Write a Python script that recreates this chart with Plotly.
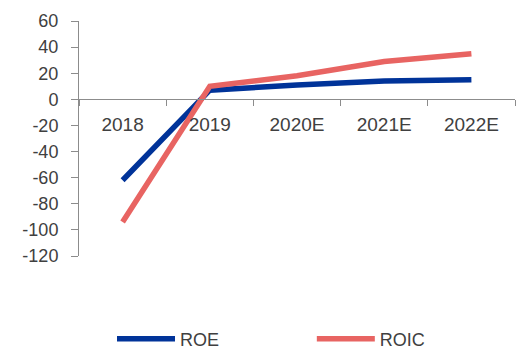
import plotly.graph_objects as go

# Return metrics by year (%)
years = ["2018", "2019", "2020E", "2021E", "2022E"]
roe = [-62, 7, 11, 14, 15]
roic = [-94, 10, 18, 29, 35]

y_ticks = [60, 40, 20, 0, -20, -40, -60, -80, -100, -120]
y_min, y_max = -120, 60

blue = "#003399"
red = "#E86462"
text_color = "#404040"
axis_color = "#8C8C8C"
font = "Liberation Sans, Arial, sans-serif"

fig = go.Figure()
fig.add_trace(go.Scatter(x=years, y=roe, name="ROE", mode="lines",
                         line=dict(color=blue, width=5.5), legend="legend"))
fig.add_trace(go.Scatter(x=years, y=roic, name="ROIC", mode="lines",
                         line=dict(color=red, width=5.5), legend="legend2"))

# x axis sits on the zero line
zero_pos = (0 - y_min) / (y_max - y_min)

legend_style = dict(orientation="h", xanchor="left", y=-0.353, yanchor="middle",
                    itemwidth=58, font=dict(size=18, color=text_color),
                    bgcolor="rgba(0,0,0,0)")

fig.update_layout(
    width=523, height=349,
    margin=dict(l=79, r=8, t=21, b=93, autoexpand=False),
    paper_bgcolor="white", plot_bgcolor="white",
    font=dict(family=font, size=18, color=text_color),
    showlegend=True,
    legend=dict(x=0.0757, **legend_style),
    legend2=dict(x=0.534, **legend_style),
    xaxis=dict(type="category", range=[-0.5, 4.5], anchor="free", position=zero_pos,
               showline=True, linecolor=axis_color, linewidth=1,
               ticks="outside", tickson="boundaries", ticklen=6, tickcolor=axis_color,
               ticklabelstandoff=8,
               showgrid=False, zeroline=False, tickfont=dict(size=19, color=text_color)),
    yaxis=dict(range=[y_min, y_max], tickvals=y_ticks,
               ticktext=[str(v) for v in y_ticks], showline=True,
               linecolor=axis_color, linewidth=1, ticks="outside", ticklen=7,
               tickcolor=axis_color, ticklabelstandoff=9,
               showgrid=False, zeroline=False,
               tickfont=dict(size=18, color=text_color)),
)

fig.write_html("out.html")
